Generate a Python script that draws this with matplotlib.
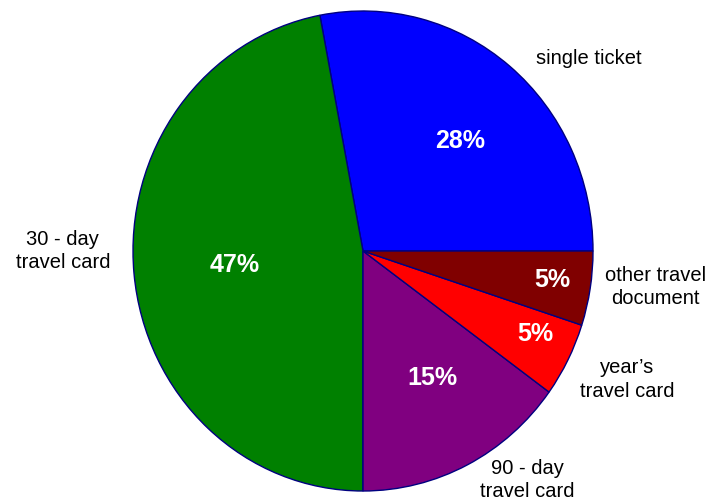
import matplotlib
matplotlib.use("Agg")
import matplotlib.pyplot as plt

plt.rcParams['font.family'] = ['Liberation Sans', 'DejaVu Sans']

categories = ["single ticket", "30 - day\ntravel card", "90 - day\ntravel card",
              "year\u2019s\ntravel card", "other travel\ndocument"]
shares = [28, 47, 15, 5, 5]
colors = ["#0000FF", "#008000", "#800080", "#FF0000", "#800000"]

# label placement in pie units (percentages inside, category names outside)
pct_pos = [(0.422, 0.46), (-0.557, -0.06), (0.304, -0.53), (0.748, -0.345), (0.822, -0.12)]
name_pos = [(0.98, 0.80), (-1.305, 0.0), (0.715, -0.955), (1.15, -0.535), (1.27, -0.15)]

fig = plt.figure(figsize=(7.14, 5.04), dpi=100)
# axes sized so the pie is slightly taller than wide
cx, cy = 363 / 714, 1 - 251 / 504
rx, ry = 230 / 714, 240 / 504
ax = fig.add_axes([cx - rx, cy - ry, 2 * rx, 2 * ry])

wedges, _ = ax.pie(shares, colors=colors, startangle=0, counterclock=True,
                   wedgeprops=dict(edgecolor="#000080", linewidth=1.0),
                   radius=1.0)
ax.set_aspect('auto')
ax.set_xlim(-1, 1)
ax.set_ylim(-1, 1)
for w in wedges:
    w.set_clip_on(False)

total = sum(shares)
for v, (px, py), name, (nx, ny) in zip(shares, pct_pos, categories, name_pos):
    ax.text(px, py, f"{v / total * 100:.0f}%",
            ha='center', va='center', color='white', fontsize=18,
            fontweight='bold', clip_on=False)
    ax.text(nx, ny, name, ha='center', va='center', color='black',
            fontsize=14.5, linespacing=1.3, clip_on=False)

fig.savefig("out.png", dpi=100)
